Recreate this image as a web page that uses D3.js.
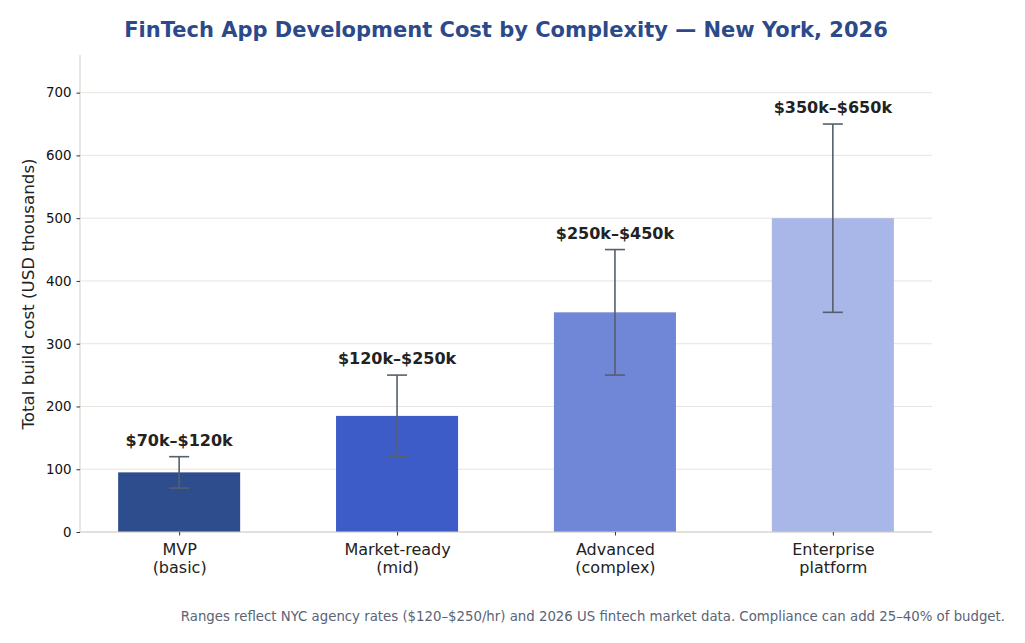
<!DOCTYPE html>
<html><head><meta charset="utf-8">
<script src="https://cdn.jsdelivr.net/npm/d3@7"></script>
<style>body{margin:0;background:#fff}svg{display:block}text{font-family:"DejaVu Sans",sans-serif}</style>
</head><body><svg id="c" width="1025" height="643"></svg>
<script>
const categories = ["MVP\n(basic)", "Market-ready\n(mid)", "Advanced\n(complex)", "Enterprise\nplatform"];
const midValues = [95, 185, 350, 500];
const lowValues = [70, 120, 250, 350];
const highValues = [120, 250, 450, 650];
const rangeLabels = ["$70k–$120k", "$120k–$250k", "$250k–$450k", "$350k–$650k"];
const barColors = ["#2e4d8d", "#3d5cc8", "#7087d8", "#a8b6e8"];
const yTicks = [0, 100, 200, 300, 400, 500, 600, 700];

const svg = d3.select("#c");
const L = 80, R = 932, T = 55, B = 532;
const x = d3.scaleLinear().domain([-0.455, 3.455]).range([L, R]);
const y = d3.scaleLinear().domain([0, 760]).range([B, T]);
const bw = 0.56;
const idx = d3.range(categories.length);

// grid
svg.append("g").selectAll("line").data(yTicks).join("line")
  .attr("x1", L).attr("x2", R).attr("y1", d => y(d)).attr("y2", d => y(d))
  .attr("stroke", "#e0ddd8").attr("stroke-width", 0.8);

// bars
svg.append("g").selectAll("rect").data(idx).join("rect")
  .attr("x", i => x(i - bw / 2)).attr("width", i => x(i + bw / 2) - x(i - bw / 2))
  .attr("y", i => y(midValues[i])).attr("height", i => y(0) - y(midValues[i]))
  .attr("fill", i => barColors[i]);

// spines
svg.append("line").attr("x1", L).attr("x2", L).attr("y1", T).attr("y2", B).attr("stroke", "#d3cfc8").attr("stroke-width", 1);
svg.append("line").attr("x1", L).attr("x2", R).attr("y1", B).attr("y2", B).attr("stroke", "#d3cfc8").attr("stroke-width", 1);

// y axis
const ya = d3.axisLeft(y).tickValues(yTicks).tickSize(3.5).tickPadding(5);
const gy = svg.append("g").attr("transform", `translate(${L},0)`).call(ya);
gy.select(".domain").remove();
gy.selectAll(".tick line").attr("stroke", "#333");
gy.selectAll(".tick text").attr("font-size", 13.4).attr("fill", "#111").attr("font-family", "DejaVu Sans");

// x axis
const xa = d3.axisBottom(x).tickValues(idx).tickSize(3.5).tickFormat("");
const gx = svg.append("g").attr("transform", `translate(0,${B})`).call(xa);
gx.select(".domain").remove();
gx.selectAll(".tick line").attr("stroke", "#333");
gx.selectAll(".tick").append("text").attr("fill", "#222").attr("font-size", 16)
  .attr("font-family", "DejaVu Sans").attr("text-anchor", "middle")
  .selectAll("tspan").data(i => categories[i].split("\n")).join("tspan")
  .attr("x", 0).attr("y", (d, j) => 23 + j * 17.5).text(d => d);

// error bars
const eg = svg.append("g").attr("stroke", "#555f6d").attr("stroke-width", 1.6);
idx.forEach(i => {
  const cx = x(i);
  eg.append("line").attr("x1", cx).attr("x2", cx).attr("y1", y(lowValues[i])).attr("y2", y(highValues[i]));
  eg.append("line").attr("x1", cx - 10).attr("x2", cx + 10).attr("y1", y(lowValues[i])).attr("y2", y(lowValues[i]));
  eg.append("line").attr("x1", cx - 10).attr("x2", cx + 10).attr("y1", y(highValues[i])).attr("y2", y(highValues[i]));
});

// range labels
svg.append("g").selectAll("text").data(idx).join("text")
  .attr("x", i => x(i)).attr("y", i => y(highValues[i]) - 11)
  .attr("text-anchor", "middle").attr("font-size", 16).attr("font-weight", "bold").attr("fill", "#222")
  .text(i => rangeLabels[i]);

// y label
svg.append("text").attr("transform", "translate(34,294) rotate(-90)").attr("text-anchor", "middle")
  .attr("font-size", 16.7).attr("fill", "#222").text("Total build cost (USD thousands)");

// title
svg.append("text").attr("x", 506).attr("y", 37).attr("text-anchor", "middle")
  .attr("font-size", 21).attr("font-weight", "bold").attr("fill", "#2c4a8a")
  .text("FinTech App Development Cost by Complexity — New York, 2026");

// footnote
svg.append("text").attr("x", 1005).attr("y", 621).attr("text-anchor", "end")
  .attr("font-size", 13.3).attr("fill", "#5a6475")
  .text("Ranges reflect NYC agency rates ($120–$250/hr) and 2026 US fintech market data. Compliance can add 25–40% of budget.");
</script></body></html>
